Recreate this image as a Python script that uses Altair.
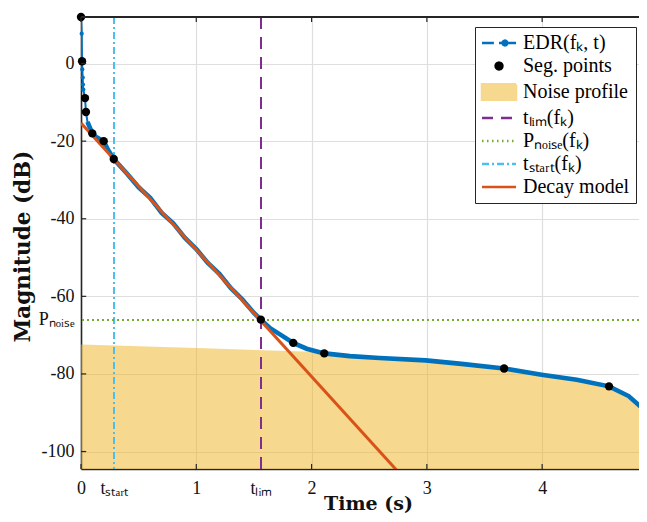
"""EDR decay with noise floor and decay model fit"""

import altair as alt
import pandas as pd

# EDR(f_k, t) samples
edr_t = [0.0, 0.006, 0.009, 0.011, 0.015, 0.017, 0.02, 0.035, 0.043, 0.056, 0.078, 0.098, 0.139, 0.197,
         0.234, 0.284, 0.4, 0.5, 0.6, 0.7, 0.8, 0.9, 1.0, 1.1, 1.2, 1.3, 1.4, 1.5, 1.56,
         1.64, 1.726, 1.841, 1.957, 2.11, 2.333, 2.59, 2.99, 3.3, 3.67, 3.995, 4.3, 4.58, 4.75, 4.89, 4.95]
edr_db = [12.0, 7.7, 0.6, -1.5, -3.6, -5.4, -6.7, -8.9, -12.5, -15.0, -16.6, -18.0, -19.1, -20.0,
          -22.2, -24.6, -28.4, -31.9, -34.6, -38.5, -41.2, -44.9, -47.8, -51.4, -54.2, -57.9, -60.8, -64.3, -66.0,
          -68.2, -69.8, -72.0, -73.5, -74.7, -75.4, -75.9, -76.5, -77.4, -78.6, -80.2, -81.5, -83.2, -85.7, -89.4, -94.0]

# segmentation points
seg_t = [0.0, 0.009, 0.035, 0.043, 0.098, 0.197, 0.284, 1.56, 1.841, 2.11, 3.67, 4.58, 4.89]
seg_db = [12.0, 0.6, -8.9, -12.5, -18.0, -20.0, -24.6, -66.0, -72.0, -74.7, -78.6, -83.2, -89.4]

# noise profile (upper edge of the shaded area)
noise_t = [0.0, 1.0, 2.0, 2.11, 2.333, 2.59, 2.99, 3.3, 3.67, 3.995, 4.3, 4.58, 4.75, 4.89, 4.95]
noise_db = [-72.4, -73.3, -74.3, -74.9, -75.6, -76.1, -76.7, -77.6, -78.8, -80.4, -81.7, -83.4, -85.9, -89.6, -94.2]

# decay model (straight line)
model_t = [0.0, 2.75]
model_db = [-15.3, -105.2]

t_start = 0.286
t_lim = 1.56
p_noise = -66.0

X_MAX = 4.84
Y_MIN, Y_MAX = -104.5, 12.0

x_ticks = [0, 1, 2, 3, 4]
y_ticks = [-100, -80, -60, -40, -20, 0]

legend_names = ["EDR(fₖ, t)", "Seg. points", "Noise profile", "tₗᵢₘ(fₖ)",
                "Pₙₒᵢₛₑ(fₖ)", "tₛₜₐᵣₜ(fₖ)", "Decay model"]

BLUE = "#0072BD"
ORANGE = "#D95319"
YELLOW = "#EDB120"
PURPLE = "#7E2F8E"
GREEN = "#77AC30"
CYAN = "#4DBEEE"
AXIS = "#262626"
FONT = "Liberation Serif"
TITLE_FONT = "DejaVu Serif"

edr_df = pd.DataFrame({"t": edr_t, "db": edr_db})
seg_df = pd.DataFrame({"t": seg_t, "db": seg_db})
noise_df = pd.DataFrame({"t": noise_t, "db": noise_db, "floor": Y_MIN})
model_df = pd.DataFrame({"t": model_t, "db": model_db})
xt_df = pd.DataFrame({"t": x_ticks, "lo": Y_MIN, "hi": Y_MIN + 1.3, "top_lo": Y_MAX - 1.3, "top_hi": Y_MAX})
yt_df = pd.DataFrame({"db": y_ticks, "x0": 0.0, "x1": 0.045})

x_vals = [0, t_start, 1, t_lim, 2, 3, 4]
x_expr = (f"datum.value == {t_start} ? 'tₛₜₐᵣₜ' : datum.value == {t_lim} ? 'tₗᵢₘ' : '' + datum.value")
y_vals = [-100, -80, p_noise, -60, -40, -20, 0]
y_expr = f"datum.value == {p_noise} ? 'Pₙₒᵢₛₑ' : '' + datum.value"

x_scale = alt.Scale(domain=[0, X_MAX], nice=False, zero=False)
y_scale = alt.Scale(domain=[Y_MIN, Y_MAX], nice=False, zero=False)

x_axis = alt.Axis(
    values=x_vals, labelExpr=x_expr, title="Time (s)", ticks=False, tickSize=0,
    labelPadding=10, labelFlush=False, labelOverlap=False,
    gridColor={"condition": {"test": f"datum.value == {t_start} || datum.value == {t_lim}",
                             "value": "transparent"}, "value": "#dedede"},
    titleX=287, titleY=40, titleBaseline="alphabetic", titleFontSize=19,
)
y_axis = alt.Axis(
    values=y_vals, labelExpr=y_expr, title="Magnitude (dB)", ticks=False, tickSize=0,
    labelPadding=7, labelFlush=False, labelOverlap=False,
    gridColor={"condition": {"test": f"datum.value == {p_noise}", "value": "transparent"},
               "value": "#dedede"},
    titleX=-58, titleY=229, titleBaseline="middle", titleFontSize=21.5,
)

x_enc = alt.X("t:Q", scale=x_scale, axis=x_axis)
y_enc = alt.Y("db:Q", scale=y_scale, axis=y_axis)

noise = alt.Chart(noise_df).mark_area(color=YELLOW, opacity=0.5, clip=True).encode(
    x=x_enc, y=y_enc, y2="floor:Q"
)

start_rule = alt.Chart(edr_df).mark_rule(color=CYAN, strokeWidth=1.5, strokeDash=[7, 3, 2, 3]).encode(
    x=alt.datum(t_start)
)
lim_rule = alt.Chart(edr_df).mark_rule(color=PURPLE, strokeWidth=1.6, strokeDash=[12, 8]).encode(
    x=alt.datum(t_lim)
)
noise_rule = alt.Chart(edr_df).mark_rule(color=GREEN, strokeWidth=1.5, strokeDash=[1.5, 3.5]).encode(
    y=alt.datum(p_noise)
)

edr_thin = alt.Chart(edr_df).mark_line(color=BLUE, strokeWidth=2, clip=True).encode(x=x_enc, y=y_enc)
edr_dots = alt.Chart(edr_df).transform_filter(alt.datum.t < 0.05).mark_circle(
    color=BLUE, size=18, opacity=1
).encode(x=x_enc, y=y_enc)
edr_thick = alt.Chart(edr_df).transform_filter(alt.datum.t > 0.05).mark_line(
    color=BLUE, strokeWidth=4.6, clip=True
).encode(x=x_enc, y=y_enc)

model = alt.Chart(model_df).mark_line(color=ORANGE, strokeWidth=3, clip=True).encode(x=x_enc, y=y_enc)

seg = alt.Chart(seg_df).mark_circle(color="black", size=70, opacity=1).encode(x=x_enc, y=y_enc)

# inward ticks and the top frame line, MATLAB style
bottom_ticks = alt.Chart(xt_df).mark_rule(color=AXIS, strokeWidth=1.2).encode(x="t:Q", y="lo:Q", y2="hi:Q")
top_ticks = alt.Chart(xt_df).mark_rule(color=AXIS, strokeWidth=1.2).encode(x="t:Q", y="top_lo:Q", y2="top_hi:Q")
left_ticks = alt.Chart(yt_df).mark_rule(color=AXIS, strokeWidth=1.2).encode(x="x0:Q", x2="x1:Q", y="db:Q")
top_line = alt.Chart(xt_df).mark_rule(color=AXIS, strokeWidth=1.6).encode(y=alt.datum(Y_MAX))

# legend built from a dummy layer: custom symbol paths per entry
line_path = "M-2,0H2"
legend_paths = [
    "M-2,0H-0.6M0,0H2M0.98,0A0.28,0.28 0 1 1 0.42,0A0.28,0.28 0 1 1 0.98,0",
    "M0.4,0A0.4,0.4 0 1 1 -0.4,0A0.4,0.4 0 1 1 0.4,0",
    "M-2,-0.9H2V0.9H-2Z",
    line_path, line_path, line_path, line_path,
]
legend_colors = [BLUE, "black", "#F6D88F", PURPLE, GREEN, CYAN, ORANGE]
legend_dashes = [[1, 0], [1, 0], [1, 0], [11, 8], [1.5, 3.5], [7, 3, 2, 3], [1, 0]]

leg = alt.Legend(
    title=None, orient="none", legendX=394, legendY=10, padding=6,
    fillColor="white", strokeColor=AXIS, cornerRadius=0,
    labelFont=FONT, labelFontSize=20, labelColor="black", labelLimit=300,
    symbolSize=289, symbolStrokeWidth=2.5, symbolOffset=8, labelOffset=14, rowPadding=3,
)
legend_df = pd.DataFrame({"entry": legend_names})
legend_layer = alt.Chart(legend_df).transform_filter("false").mark_point(filled=True, opacity=1).encode(
    fill=alt.Fill("entry:N", scale=alt.Scale(domain=legend_names, range=legend_colors), legend=leg),
    stroke=alt.Stroke("entry:N", scale=alt.Scale(domain=legend_names, range=legend_colors), legend=leg),
    shape=alt.Shape("entry:N", scale=alt.Scale(domain=legend_names, range=legend_paths), legend=leg),
    strokeDash=alt.StrokeDash("entry:N", scale=alt.Scale(domain=legend_names, range=legend_dashes), legend=leg),
)

chart = alt.layer(
    noise, start_rule, lim_rule, noise_rule, edr_thin, edr_dots, edr_thick, model, seg,
    bottom_ticks, top_ticks, left_ticks, top_line, legend_layer,
).properties(
    width=558, height=452,
    autosize=alt.AutoSizeParams(type="none"),
    padding={"left": 73, "top": 9, "right": 0, "bottom": 45},
    background="white",
).configure_view(
    stroke=None
).configure_axis(
    labelFont=FONT, labelFontSize=18, labelColor="#111",
    titleFont=TITLE_FONT, titleFontWeight="bold", titleColor="#111",
    domainColor=AXIS, domainWidth=1.6, gridWidth=1.2,
)

chart.save("out.html", embed_options={"renderer": "svg", "actions": False})
